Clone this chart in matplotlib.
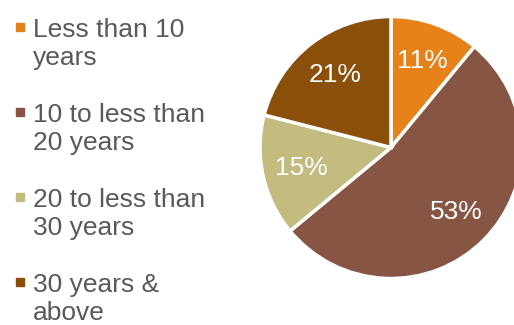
import matplotlib.pyplot as plt
from matplotlib.patches import Rectangle

plt.rcParams['font.family'] = ['Liberation Sans', 'DejaVu Sans']

# Service length groups and their shares
labels = ["Less than 10\nyears", "10 to less than\n20 years",
          "20 to less than\n30 years", "30 years &\nabove"]
shares = [11, 53, 15, 21]
colors = ["#E6821A", "#875543", "#C3BB80", "#8B4F0C"]

W, H = 514, 325
fig = plt.figure(figsize=(W / 100, H / 100), dpi=100)

# Pie axes: centre (391, 147.5) px, radius 131 px
cx, cy, r = 391, 147.5, 131
ax = fig.add_axes([(cx - r) / W, (H - cy - r) / H, 2 * r / W, 2 * r / H])
ax.pie(shares, colors=colors, startangle=90, counterclock=False, radius=1,
       autopct=lambda p: f"{p:.0f}%", pctdistance=0.7,
       wedgeprops=dict(edgecolor="white", linewidth=2.5),
       textprops=dict(color="white", fontsize=19))
ax.set_xlim(-1, 1)
ax.set_ylim(-1, 1)
ax.set_aspect("equal")
ax.axis("off")

# Legend drawn by hand so the marker sits beside the first line
first_line_y = [27, 112, 197, 282]
for lab, col, y in zip(labels, colors, first_line_y):
    fig.patches.append(Rectangle((16 / W, 1 - (y + 4) / H), 8 / W, 8 / H,
                                 transform=fig.transFigure, color=col))
    fig.text(33 / W, 1 - (y - 9) / H, lab, fontsize=19, color="#595959",
             va="top", ha="left", linespacing=1.2)

fig.savefig("out.png", dpi=100)
